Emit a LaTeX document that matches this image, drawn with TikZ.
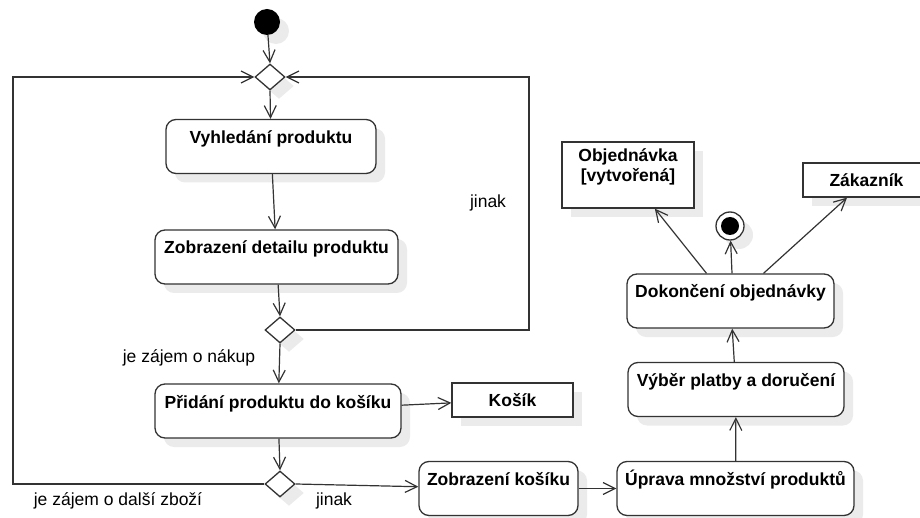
\documentclass[tikz,border=0pt]{standalone}
\usepackage{fontspec}
\setmainfont{Liberation Sans}
\usetikzlibrary{arrows.meta,shapes.geometric,shadows}
\definecolor{linec}{HTML}{333333}
\definecolor{shadowc}{HTML}{EBEBEB}
\begin{document}
\begin{tikzpicture}[x=1pt,y=-1pt,
  softshadow/.style={drop shadow={shadow xshift=9pt,shadow yshift=-9pt,fill=shadowc,opacity=1}},
  boxfont/.style={font=\fontsize{17.5}{20}\selectfont\bfseries},
  act/.style={draw=linec,line width=1.3pt,rounded corners=10pt,fill=white,softshadow,boxfont,
    text height=24pt,text depth=30pt,inner ysep=0pt,inner xsep=0pt},
  obj/.style={draw=linec,line width=1.3pt,fill=white,softshadow,boxfont,inner sep=0pt},
  choice/.style={diamond,draw=linec,line width=1.3pt,fill=white,softshadow,inner sep=0pt,
    minimum width=30pt,minimum height=26pt},
  flow/.style={draw=linec,line width=1.2pt,-{Straight Barb[length=12pt,width=12pt,line width=1.2pt]}},
  guard/.style={font=\fontsize{17.5}{20}\selectfont,text=black,inner sep=0pt}
]
\useasboundingbox (0,0) rectangle (920,518);

% start, merge and the browsing loop
\node[circle,fill=black,minimum size=26pt,inner sep=0pt,softshadow] (start) at (267,22) {};
\node[choice] (merge) at (270,77) {};
\node[act,minimum width=210pt] (search) at (271,146.5) {Vyhledání produktu};
\node[act,minimum width=243pt] (detail) at (276.5,257) {Zobrazení detailu produktu};
\node[choice] (dec1) at (280,330) {};
\node[act,minimum width=246pt] (add) at (278,411) {Přidání produktu do košíku};
\node[obj,minimum width=121pt,minimum height=34pt] (cart) at (512.5,400) {Košík};
\node[choice] (dec2) at (280,484) {};

% checkout
\node[act,minimum width=159pt] (showcart) at (498.5,488.5) {Zobrazení košíku};
\node[act,minimum width=237pt] (qty) at (735.5,488.5) {Úprava množství produktů};
\node[act,minimum width=216pt] (pay) at (736,389.5) {Výběr platby a doručení};
\node[act,minimum width=207pt] (finish) at (730.5,301) {Dokončení objednávky};
\node[obj,minimum width=132pt,minimum height=66pt,
  label={[boxfont,align=center,anchor=north,yshift=-7pt,inner sep=0pt]north:Objednávka\\{[vytvořená]}}]
  (order) at (628,175) {};
\node[obj,minimum width=127pt,minimum height=34pt] (customer) at (866.5,180) {Zákazník};
\node[circle,draw=linec,line width=1.3pt,fill=white,minimum size=28pt,inner sep=0pt,softshadow] (final) at (730,226) {};
\node[circle,fill=black,minimum size=18pt,inner sep=0pt] (finaldot) at (final) {};

% guards
\node[guard] (g1) at (189,358) {je zájem o nákup};
\node[guard] (g2) at (488,203) {jinak};
\node[guard] (g3) at (118,501) {je zájem o další zboží};
\node[guard] (g4) at (334,501) {jinak};

% loop corners
\coordinate (lb) at (13,484);
\coordinate (lt) at (13,77);
\coordinate (rb) at (529,330);
\coordinate (rt) at (529,77);

% flows
\draw[flow] (start) -- (merge.north);
\draw[flow] (merge.south) -- (search);
\draw[flow] (search) -- (detail);
\draw[flow] (detail) -- (dec1.north);
\draw[flow] (dec1.south) -- (add);
\draw[flow] (dec1.east) -- (rb) -- (rt) -- (merge.east);
\draw[flow] (add) -- (cart);
\draw[flow] (add) -- (dec2.north);
\draw[flow] (dec2.west) -- (lb) -- (lt) -- (merge.west);
\draw[flow] (dec2.east) -- (showcart);
\draw[flow] (showcart) -- (qty);
\draw[flow] (qty) -- (pay);
\draw[flow] (pay) -- (finish);
\draw[flow] ([xshift=-24pt]finish.north) -- (order);
\draw[flow] ([xshift=1.5pt]finish.north) -- (final);
\draw[flow] ([xshift=33pt]finish.north) -- (customer);
\end{tikzpicture}
\end{document}
